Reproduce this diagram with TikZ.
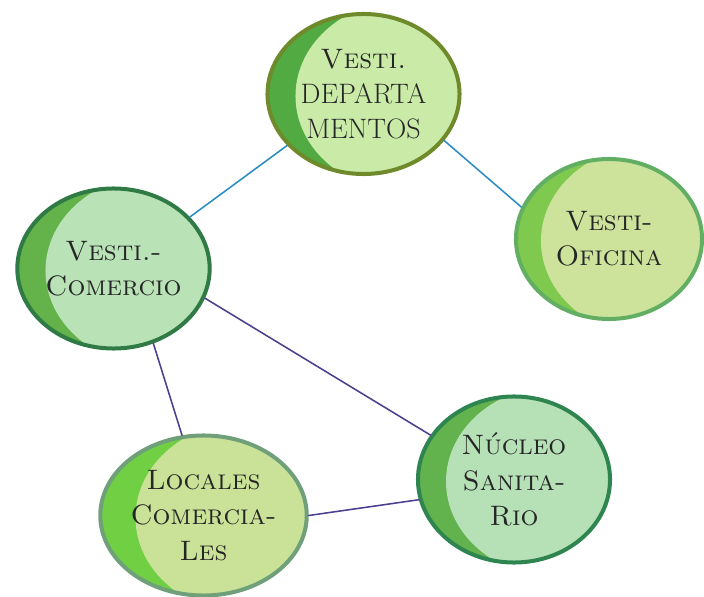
\documentclass[tikz,border=0pt]{standalone}
\usepackage{fontspec}
\usetikzlibrary{shapes.geometric}
\definecolor{inkcolor}{HTML}{262626}
\definecolor{bluelink}{HTML}{2B8CC4}
\definecolor{purplelink}{HTML}{4B3F8E}
% rim / crescent / light fill of each room
\definecolor{deptrim}{HTML}{6E8A2A}\definecolor{deptdark}{HTML}{52AA42}\definecolor{deptlight}{HTML}{CAEBA8}
\definecolor{comrim}{HTML}{2F7A45}\definecolor{comdark}{HTML}{63B24A}\definecolor{comlight}{HTML}{B9E2B6}
\definecolor{ofirim}{HTML}{62AE62}\definecolor{ofidark}{HTML}{80C94F}\definecolor{ofilight}{HTML}{CDE39C}
\definecolor{locrim}{HTML}{6FA07A}\definecolor{locdark}{HTML}{70CF42}\definecolor{loclight}{HTML}{C9E297}
\definecolor{sanrim}{HTML}{2E8550}\definecolor{sandark}{HTML}{62B24E}\definecolor{sanlight}{HTML}{B6E0B6}
\tikzset{
  room/.style n args={3}{ellipse,draw=#1,fill=#2,line width=2.85pt,
    minimum width=4.8cm,minimum height=4cm,inner sep=0pt,align=center,
    font=\fontsize{20}{25}\selectfont,text=inkcolor,
    path picture={\fill[#3] ([xshift=1.1cm,yshift=-0.05cm]path picture bounding box.center)
      ellipse [x radius=2.8cm,y radius=2.4cm];}},
  link/.style={line width=1.1pt,#1}
}
\begin{document}
\begin{tikzpicture}[x=0.025cm,y=-0.025cm,line cap=round,line join=round]
  \useasboundingbox (0,0) rectangle (704,597);
  % rooms
  \node[room={deptrim}{deptdark}{deptlight}] (dept) at (363.5,94) {\textsc{Vesti.}\\DEPARTA\\MENTOS};
  \node[room={comrim}{comdark}{comlight}] (com) at (113.5,268.5) {\textsc{Vesti.-}\\\textsc{Comercio}};
  \node[room={ofirim}{ofidark}{ofilight},minimum width=4.65cm] (ofi) at (609,239) {\textsc{Vesti-}\\\textsc{Oficina}};
  \node[room={locrim}{locdark}{loclight}] (loc) at (203.5,515.5) {\textsc{Locales}\\\textsc{Comercia-}\\\textsc{Les}};
  \node[room={sanrim}{sandark}{sanlight},minimum height=4.15cm] (san) at (514,479.5) {\textsc{Núcleo}\\\textsc{Sanita-}\\\textsc{Rio}};
  % links
  \foreach \a/\b/\c in {dept.214/com.34/bluelink,dept.-30/ofi.160/bluelink,
      com.-18/san.152/purplelink,com.-62/loc.105/purplelink,loc.0/san.192/purplelink}{
    \draw[link=\c] (\a) -- (\b);
  }
\end{tikzpicture}
\end{document}
